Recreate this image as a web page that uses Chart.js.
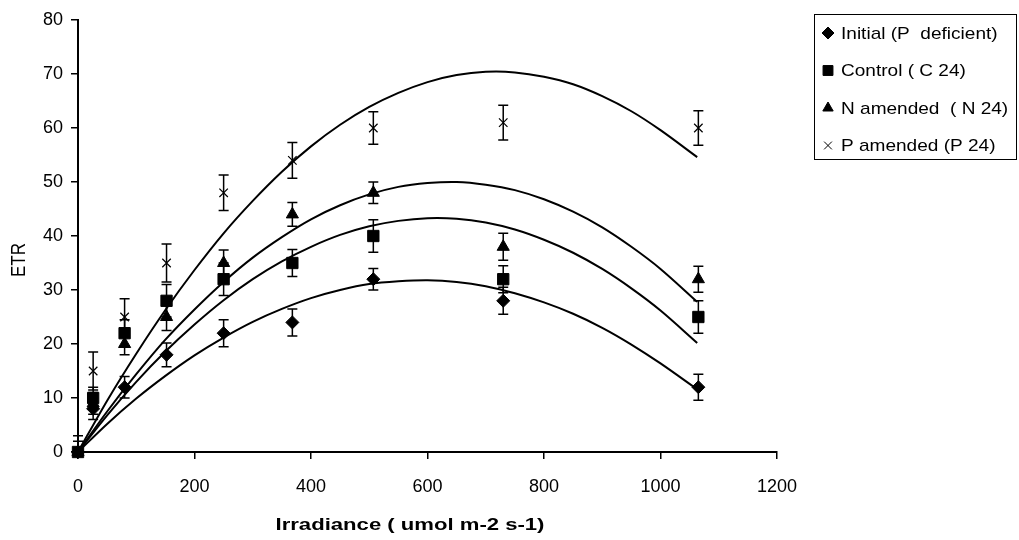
<!DOCTYPE html>
<html>
<head>
<meta charset="utf-8">
<script src="https://cdn.jsdelivr.net/npm/chart.js@4/dist/chart.umd.min.js"></script>
<style>
html,body{margin:0;padding:0;background:#fff;}
#wrap{width:1019px;height:540px;position:relative;}
</style>
</head>
<body>
<div id="wrap"><canvas id="c" width="1019" height="540"></canvas></div>
<script>
// ---- data ----
const irradiance = [0, 26, 80, 152, 250, 368, 507, 730, 1065];
const initialETR = [0, 8, 12, 18, 22, 24, 32, 28, 12];
const initialErr = [0, 2, 2, 2.2, 2.5, 2.5, 2, 2.5, 2.4];
const controlETR = [0, 10, 22, 28, 32, 35, 40, 32, 25];
const controlErr = [0, 2, 2.5, 3, 3, 2.5, 3, 2.5, 3];
const nAmendETR  = [0, 9, 20, 25, 35, 44, 48, 38, 32];
const nAmendErr  = [2, 2, 2, 2.5, 2.4, 2.2, 2, 2.5, 2.4];
const pAmendETR  = [0, 15, 25, 35, 48, 54, 60, 61, 60];
const pAmendErr  = [3, 3.5, 3.4, 3.5, 3.3, 3.3, 3, 3.2, 3.2];

// trend curves
const curveX      = [0, 50, 100, 150, 200, 250, 300, 350, 400, 450, 500, 550, 600, 650, 700, 750, 800, 850, 900, 950, 1000, 1063];
const initialFit  = [0, 5.2, 9.9, 14.1, 17.9, 21.2, 24.1, 26.5, 28.5, 30.0, 31.1, 31.6, 31.8, 31.5, 30.7, 29.4, 27.7, 25.6, 23.0, 19.9, 16.4, 11.6];
const controlFit  = [0, 6.8, 13.0, 18.6, 23.6, 28.1, 32.0, 35.3, 38.0, 40.2, 41.8, 42.8, 43.3, 43.2, 42.5, 41.2, 39.3, 36.9, 33.9, 30.3, 26.2, 20.2];
const nAmendFit   = [0, 7.5, 14.4, 20.8, 26.4, 31.5, 36.0, 39.8, 43.1, 45.7, 47.7, 49.1, 49.8, 50.0, 49.5, 48.5, 46.8, 44.5, 41.6, 38.0, 33.9, 27.8];
const pAmendFit   = [0, 9.5, 18.2, 26.3, 33.7, 40.5, 46.5, 51.9, 56.6, 60.6, 63.9, 66.5, 68.5, 69.8, 70.4, 70.3, 69.5, 68.1, 65.9, 63.1, 59.6, 54.6];

const xTicks = [0, 200, 400, 600, 800, 1000, 1200];
const yTicks = [0, 10, 20, 30, 40, 50, 60, 70, 80];

const seriesLabels = ['Initial (P  deficient)', 'Control ( C 24)', 'N amended  ( N 24)', 'P amended (P 24)'];
const xTitle = 'Irradiance ( umol m-2 s-1)';
const yTitle = 'ETR';

const pts = (xs, ys) => xs.map((x, i) => ({x: x, y: ys[i]}));

function markerSet(label, ys, errs, style, radius, bw) {
  return {
    type: 'scatter', label: label, data: pts(irradiance, ys), errors: errs,
    pointStyle: style, pointRadius: radius, pointHoverRadius: radius,
    backgroundColor: '#000', borderColor: '#000', pointBorderWidth: bw,
    showLine: false, clip: false, order: 1
  };
}
function fitSet(ys) {
  return {
    type: 'line', label: '', data: pts(curveX, ys), isFit: true,
    borderColor: '#000', borderWidth: 2, pointRadius: 0, tension: 0.3,
    fill: false, clip: false, order: 2
  };
}

const errorBarPlugin = {
  id: 'errorBars',
  beforeDatasetsDraw(chart) {
    const ctx = chart.ctx, xs = chart.scales.x, ys = chart.scales.y;
    ctx.save();
    ctx.strokeStyle = '#000';
    ctx.lineWidth = 1.5;
    chart.data.datasets.forEach(ds => {
      if (!ds.errors) return;
      ds.data.forEach((p, j) => {
        const e = ds.errors[j];
        if (!e) return;
        const px = xs.getPixelForValue(p.x);
        const top = ys.getPixelForValue(p.y + e);
        const bot = ys.getPixelForValue(Math.max(p.y - e, 0));
        ctx.beginPath();
        ctx.moveTo(px, top); ctx.lineTo(px, bot);
        ctx.moveTo(px - 5, top); ctx.lineTo(px + 5, top);
        if (p.y - e >= 0) { ctx.moveTo(px - 5, bot); ctx.lineTo(px + 5, bot); }
        ctx.stroke();
      });
    });
    ctx.restore();
  }
};

const textPlugin = {
  id: 'textDecor',
  afterDraw(chart) {
    const ctx = chart.ctx;
    ctx.save();
    ctx.fillStyle = '#000';
    // x title
    ctx.font = 'bold 17px "Liberation Sans", Arial, sans-serif';
    ctx.textAlign = 'center';
    ctx.textBaseline = 'middle';
    ctx.save();
    ctx.translate(410, 525);
    ctx.scale(1.3, 1);
    ctx.fillText(xTitle, 0, 0);
    ctx.restore();
    // y title
    ctx.font = '17px "Liberation Sans", Arial, sans-serif';
    ctx.save();
    ctx.translate(20, 260);
    ctx.scale(1.15, 1);
    ctx.rotate(-Math.PI / 2);
    ctx.fillText(yTitle, 0, 0);
    ctx.restore();
    // legend box
    ctx.strokeStyle = '#000';
    ctx.lineWidth = 1;
    ctx.strokeRect(814.5, 14.5, 202, 145);
    const markers = chart.data.datasets.filter(d => !d.isFit);
    ctx.textAlign = 'left';
    ctx.font = '17px "Liberation Sans", Arial, sans-serif';
    markers.forEach((ds, i) => {
      const yy = 33 + i * 37.5;
      const r = ds.pointStyle === 'rect' ? 7 : (ds.pointStyle === 'crossRot' ? 5.5 : 6);
      Chart.helpers.drawPoint(ctx, {pointStyle: ds.pointStyle, radius: r, borderWidth: ds.pointBorderWidth}, 828, yy);
      ctx.fillStyle = '#000';
      ctx.save();
      ctx.translate(841, yy);
      ctx.scale(1.12, 1);
      ctx.fillText(ds.label, 0, 1);
      ctx.restore();
    });
    ctx.restore();
  }
};

Chart.defaults.font.family = '"Liberation Sans", Arial, sans-serif';
Chart.defaults.color = '#000';

new Chart(document.getElementById('c'), {
  type: 'scatter',
  data: {
    datasets: [
      markerSet(seriesLabels[0], initialETR, initialErr, 'rectRot', 6.5, 1),
      markerSet(seriesLabels[1], controlETR, controlErr, 'rect', 8, 1),
      markerSet(seriesLabels[2], nAmendETR, nAmendErr, 'triangle', 7, 1),
      markerSet(seriesLabels[3], pAmendETR, pAmendErr, 'crossRot', 6, 1.2),
      fitSet(initialFit), fitSet(controlFit), fitSet(nAmendFit), fitSet(pAmendFit)
    ]
  },
  options: {
    responsive: false,
    animation: false,
    devicePixelRatio: 1,
    layout: {padding: {top: 20, right: 242, bottom: 0, left: 0}},
    plugins: {legend: {display: false}, tooltip: {enabled: false}},
    scales: {
      x: {
        type: 'linear', min: 0, max: 1200,
        afterBuildTicks: s => { s.ticks = xTicks.map(v => ({value: v})); },
        afterFit: s => { s.height = 88; },
        grid: {drawOnChartArea: false, drawTicks: true, tickLength: 7, color: '#000', lineWidth: 1.5},
        border: {display: true, color: '#000', width: 2},
        ticks: {font: {size: 18}, padding: 17, color: '#000', maxRotation: 0, callback: v => String(v)}
      },
      y: {
        type: 'linear', min: 0, max: 80,
        afterBuildTicks: s => { s.ticks = yTicks.map(v => ({value: v})); },
        afterFit: s => { s.width = 78; },
        grid: {drawOnChartArea: false, drawTicks: true, tickLength: 7, color: '#000', lineWidth: 1.5},
        border: {display: true, color: '#000', width: 2},
        ticks: {font: {size: 18}, padding: 8, color: '#000', callback: v => String(v)}
      }
    }
  },
  plugins: [errorBarPlugin, textPlugin]
});
</script>
</body>
</html>
